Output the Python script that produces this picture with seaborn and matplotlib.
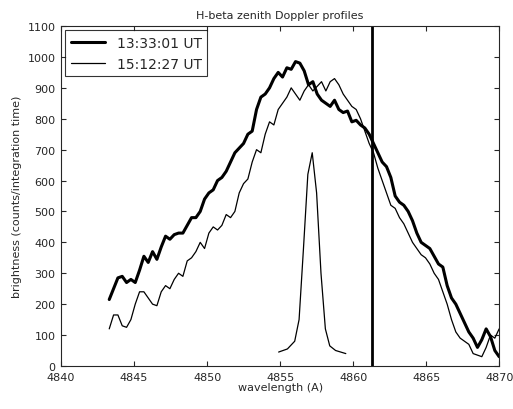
import numpy as np
import pandas as pd
import seaborn as sns
import matplotlib
matplotlib.use("Agg")
import matplotlib.pyplot as plt

# 13:33:01 UT profile
early = [215, 250, 285, 290, 270, 280, 270, 310, 355, 335, 370, 345, 385, 420, 410, 425,
         430, 430, 455, 480, 480, 500, 540, 560, 570, 600, 610, 630, 660, 690, 705, 720,
         750, 760, 830, 870, 880, 900, 930, 950, 935, 965, 960, 985, 980, 955, 910, 920,
         880, 860, 850, 840, 860, 830, 820, 825, 790, 795, 780, 770, 750, 720, 690, 660,
         645, 610, 550, 530, 520, 500, 470, 430, 400, 390, 380, 355, 330, 320, 260, 220,
         200, 170, 140, 110, 90, 60, 85, 120, 95, 50, 30]
# 15:12:27 UT profile
late = [120, 165, 165, 130, 125, 150, 200, 240, 240, 220, 200, 195, 240, 260, 250, 280,
        300, 290, 340, 350, 370, 400, 380, 430, 450, 440, 455, 490, 480, 500, 560, 590,
        605, 660, 700, 690, 750, 790, 780, 830, 850, 870, 900, 880, 860, 890, 910, 890,
        905, 920, 890, 920, 930, 910, 880, 860, 840, 830, 800, 760, 720, 690, 640, 600,
        560, 520, 510, 480, 460, 430, 400, 380, 360, 350, 330, 300, 280, 240, 200, 150,
        110, 90, 80, 70, 40, 35, 30, 60, 100, 90, 120]
wl = np.linspace(4843.3, 4870, len(early))

inst_wl = [4854.9, 4855.5, 4856.0, 4856.3, 4856.6, 4856.9, 4857.2, 4857.5, 4857.8,
           4858.1, 4858.4, 4858.8, 4859.5]
inst = [45, 55, 80, 150, 380, 620, 690, 560, 300, 120, 65, 50, 40]
hbeta = 4861.3

sns.set_style("ticks")
plt.rcParams['font.family'] = ['DejaVu Sans']

fig = plt.figure(figsize=(5.13, 4.10), dpi=100)
ax = fig.add_axes([0.119, 0.105, 0.854, 0.829])
df = pd.DataFrame({"wl": wl, "early": early, "late": late})
sns.lineplot(data=df, x="wl", y="early", ax=ax, color="black", lw=2.2, label="13:33:01 UT")
sns.lineplot(data=df, x="wl", y="late", ax=ax, color="black", lw=0.9, label="15:12:27 UT")
sns.lineplot(x=inst_wl, y=inst, ax=ax, color="black", lw=0.9)
ax.axvline(hbeta, color="black", lw=2)

ax.set_xlim(4840, 4870)
ax.set_ylim(0, 1100)
ax.set_xticks(range(4840, 4871, 5))
ax.set_yticks(range(0, 1101, 100))
ax.tick_params(direction="in", top=True, right=True, labelsize=8, pad=4)
ax.set_xlabel("wavelength (A)", fontsize=8, labelpad=0)
ax.set_ylabel("brightness (counts/integration time)", fontsize=8)
ax.set_title("H-beta zenith Doppler profiles", fontsize=8)
leg = ax.legend(loc="upper left", fontsize=10, frameon=True, fancybox=False,
                edgecolor="black", handlelength=2.5, borderaxespad=0.3)
leg.get_frame().set_linewidth(0.8)
fig.savefig("out.png", dpi=100)
